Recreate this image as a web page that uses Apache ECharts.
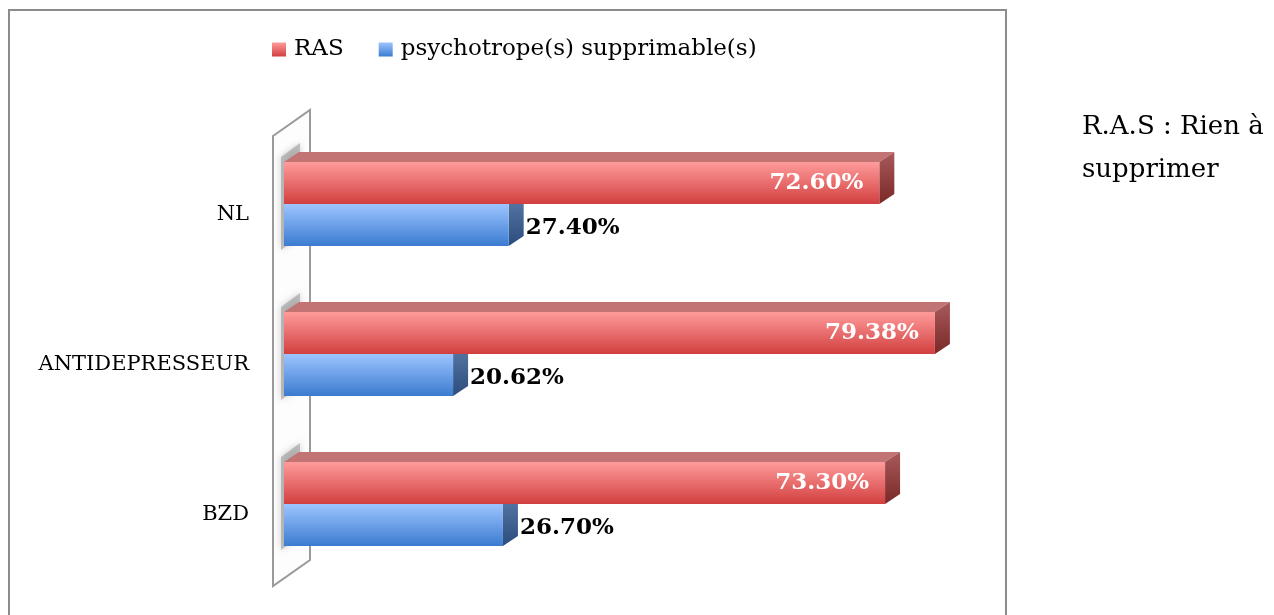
<!DOCTYPE html>
<html>
<head>
<meta charset="utf-8">
<script src="https://cdn.jsdelivr.net/npm/echarts@6/dist/echarts.min.js"></script>
<style>
  html, body { margin: 0; padding: 0; background: #fff; }
  #chart { width: 1274px; height: 615px; }
</style>
</head>
<body>
<div id="chart"></div>
<script>
// données (en %)
const categories = ['NL', 'ANTIDEPRESSEUR', 'BZD'];
const rasValues = [72.60, 79.38, 73.30];
const psyValues = [27.40, 20.62, 26.70];
const seriesNames = ['RAS', 'psychotrope(s) supprimable(s)'];

const FONT = 'DejaVu Serif';
const BAR_H = 42;   // hauteur d'une barre
const DX = 15, DY = 10; // profondeur 3D

const grad = (a, b) => new echarts.graphic.LinearGradient(0, 0, 0, 1, [
  { offset: 0, color: a }, { offset: 1, color: b }
]);

const styles = {
  ras: { front: ['#ff9b9b', '#d23f3f'], top: '#c27373', side: ['#a95a5a', '#7a2828'] },
  psy: { front: ['#9dc5ff', '#3b7bd0'], top: '#6f8fbf', side: ['#5b7ba9', '#2b4c7c'] }
};

// barre "3D" : face avant + dessus + côté + étiquette
function bar3d(st, upper, inside) {
  return function (params, api) {
    const idx = api.value(0);
    const val = api.value(1);
    const p0 = api.coord([0, idx]);
    const p1 = api.coord([val, idx]);
    const x0 = p0[0], x1 = p1[0];
    const cy = p0[1];
    const yTop = upper ? cy - BAR_H : cy;
    const children = [];
    if (!upper) {
      // ombre portée sur le mur
      children.push({
        type: 'polygon',
        shape: { points: [[x0 - 3, cy - 47], [x0 + 16, cy - 61], [x0 + 16, cy + 32], [x0 - 3, cy + 46]] },
        style: { fill: 'rgba(150,150,150,0.55)', shadowBlur: 7, shadowColor: 'rgba(0,0,0,0.35)' }
      });
    }
    children.push({
      type: 'polygon',
      shape: { points: [[x0, yTop], [x1, yTop], [x1 + DX, yTop - DY], [x0 + DX, yTop - DY]] },
      style: { fill: st.top }
    });
    children.push({
      type: 'polygon',
      shape: { points: [[x1, yTop], [x1 + DX, yTop - DY], [x1 + DX, yTop + BAR_H - DY], [x1, yTop + BAR_H]] },
      style: { fill: grad(st.side[0], st.side[1]) }
    });
    children.push({
      type: 'rect',
      shape: { x: x0, y: yTop, width: x1 - x0, height: BAR_H },
      style: { fill: grad(st.front[0], st.front[1]) }
    });
    const txt = val.toFixed(2) + '%';
    children.push({
      type: 'text',
      x: inside ? x1 - 16 : x1 + 17,
      y: yTop + (inside ? BAR_H / 2 : BAR_H / 2 + 3),
      style: {
        text: txt,
        fill: inside ? '#ffffff' : '#000000',
        font: 'bold 23px "' + FONT + '"',
        align: inside ? 'right' : 'left',
        verticalAlign: 'middle'
      }
    });
    return { type: 'group', children: children };
  };
}

const chart = echarts.init(document.getElementById('chart'));

chart.setOption({
  animation: false,
  backgroundColor: '#ffffff',
  grid: { left: 284, top: 129, width: 820, height: 450 },
  legend: {
    left: 267,
    top: 33,
    itemWidth: 14,
    itemHeight: 14,
    itemGap: 35,
    textStyle: { fontFamily: FONT, fontSize: 23, color: '#000', padding: [0, 0, 0, 3] },
    data: [
      { name: seriesNames[0], icon: 'rect', itemStyle: { color: grad(styles.ras.front[0], styles.ras.front[1]) } },
      { name: seriesNames[1], icon: 'rect', itemStyle: { color: grad(styles.psy.front[0], styles.psy.front[1]) } }
    ]
  },
  xAxis: { type: 'value', min: 0, max: 100, show: false },
  yAxis: {
    type: 'category',
    inverse: true,
    data: categories,
    axisLine: { show: false },
    axisTick: { show: false },
    splitLine: { show: false },
    axisLabel: {
      margin: 35,
      verticalAlign: 'top',
      fontFamily: FONT,
      fontSize: 21,
      color: '#000'
    }
  },
  graphic: [
    {
      type: 'rect',
      z: -10,
      shape: { x: 9, y: 10, width: 997, height: 620 },
      style: { fill: 'none', stroke: '#8c8c8c', lineWidth: 2 }
    },
    {
      type: 'polygon',
      z: -5,
      shape: { points: [[273, 136], [310, 110], [310, 560], [273, 586]] },
      style: { fill: '#fdfdfd', stroke: '#9a9a9a', lineWidth: 2 }
    },
    {
      type: 'text',
      left: 1082,
      top: 106,
      style: {
        text: 'R.A.S : Rien à\nsupprimer',
        font: '26px "' + FONT + '"',
        lineHeight: 43,
        fill: '#000'
      }
    }
  ],
  series: [
    {
      name: seriesNames[1],
      type: 'custom',
      z: 2,
      itemStyle: { color: styles.psy.front[1] },
      encode: { x: 1, y: 0 },
      data: psyValues.map((v, i) => [i, v]),
      renderItem: bar3d(styles.psy, false, false)
    },
    {
      name: seriesNames[0],
      type: 'custom',
      z: 3,
      itemStyle: { color: styles.ras.front[1] },
      encode: { x: 1, y: 0 },
      data: rasValues.map((v, i) => [i, v]),
      renderItem: bar3d(styles.ras, true, true)
    }
  ]
});
</script>
</body>
</html>
